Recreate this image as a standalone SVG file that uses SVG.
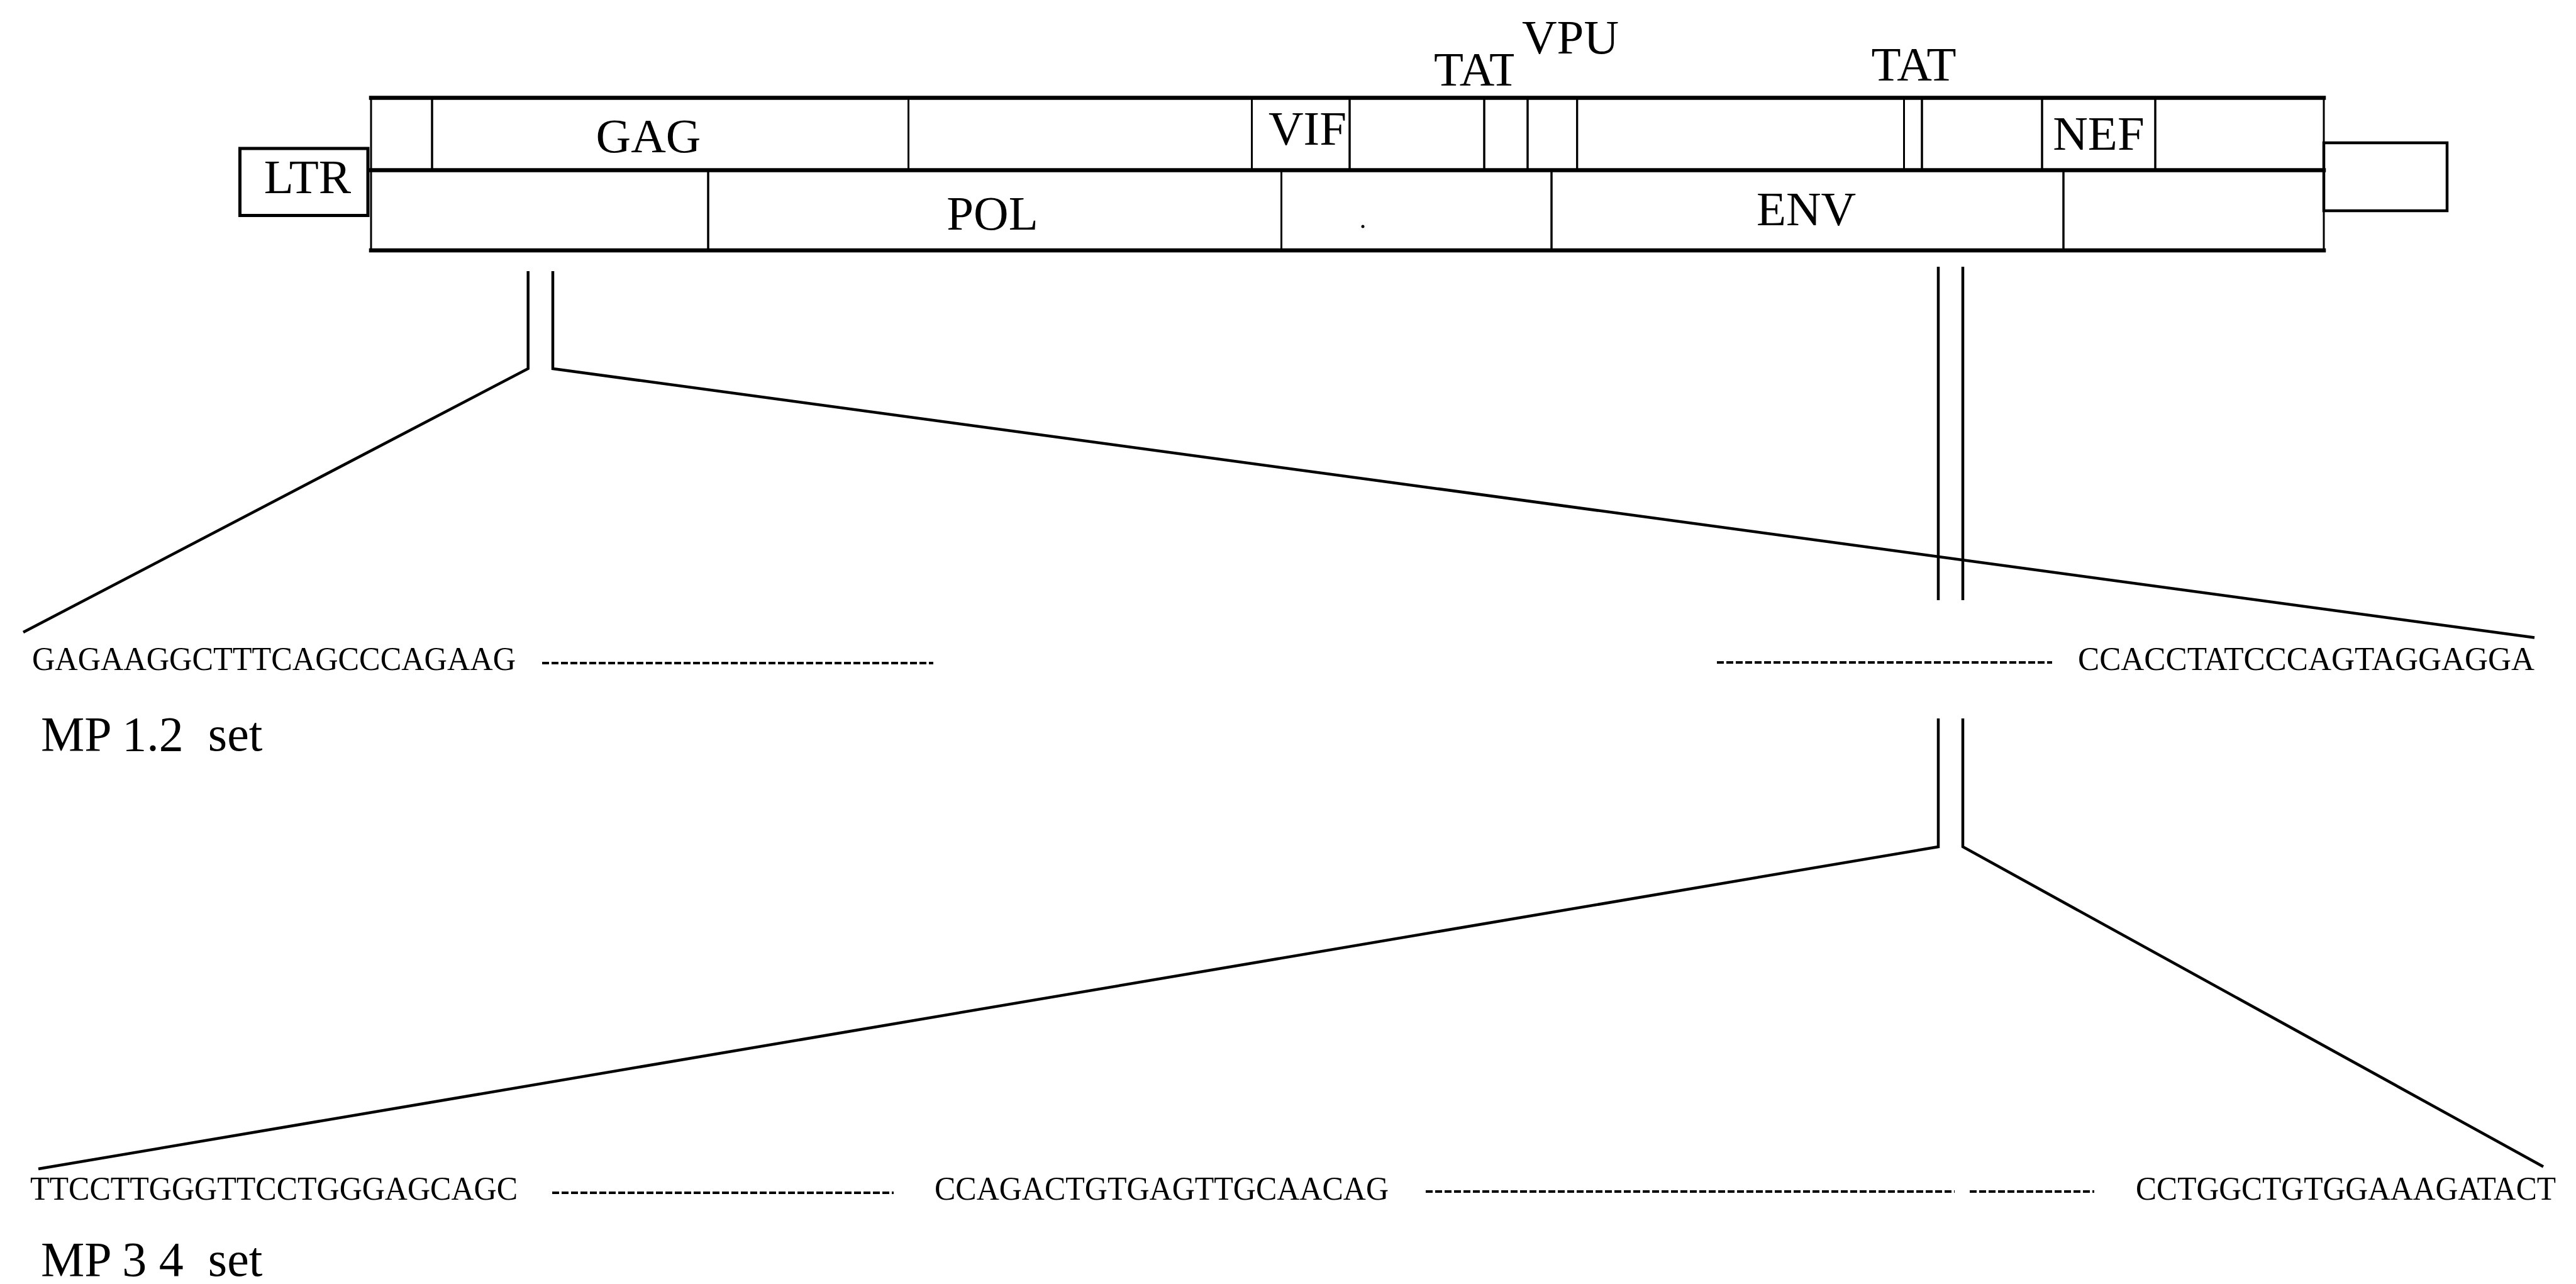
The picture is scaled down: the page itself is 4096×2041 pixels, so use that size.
<svg xmlns="http://www.w3.org/2000/svg" width="4096" height="2041" viewBox="0 0 4096 2041">
  <style>
    .seg { fill: none; stroke: #000; stroke-width: 3; }
    .rail { stroke: #000; stroke-width: 6.5; stroke-linecap: square; }
    .lbl { font-family: "Liberation Serif", "Times New Roman", serif; font-size: 77px; fill: #000; }
    .seq { font-family: "Liberation Serif", "Times New Roman", serif; font-size: 52px; fill: #000; }
    .set { font-family: "Liberation Serif", "Times New Roman", serif; font-size: 78px; fill: #000; }
    .link { fill: none; stroke: #000; stroke-width: 4.5; stroke-linejoin: miter; }
    .dots { stroke: #000; stroke-width: 4; stroke-dasharray: 11 4; }
  </style>
  <defs>
    <clipPath id="tat1-clip">
      <rect x="2270" y="60" width="137" height="90"/>
    </clipPath>
  </defs>
  <rect width="4096" height="2041" fill="#fff"/>

  <!-- genome map: LTR ends and reading-frame rows -->
  <g id="ltr-left">
    <rect class="seg" x="381.5" y="236" width="203.5" height="106.5" style="stroke-width:5"/>
    <text class="lbl" x="489" y="307" text-anchor="middle">LTR</text>
  </g>
  <g id="ltr-right">
    <rect class="seg" x="3695" y="227" width="196" height="108" style="stroke-width:4.5"/>
  </g>

  <g id="frame-top">
    <rect class="seg" x="590" y="155.5" width="97" height="115"/>
    <rect class="seg" x="1444.5" y="155.5" width="546" height="115"/>
    <rect class="seg" x="2146" y="155.5" width="214" height="115"/>
    <rect class="seg" x="2507.7" y="155.5" width="519.8" height="115"/>
    <rect class="seg" x="3056" y="155.5" width="191" height="115"/>
    <rect class="seg" x="3427" y="155.5" width="268" height="115"/>
  </g>
  <g id="frame-bottom">
    <rect class="seg" x="590" y="270.5" width="536" height="127.5"/>
    <rect class="seg" x="2037.5" y="270.5" width="429.5" height="127.5"/>
    <rect class="seg" x="3281" y="270.5" width="414" height="127.5"/>
  </g>

  <g id="gag">
    <rect class="seg" x="687" y="155.5" width="757.5" height="115"/>
    <text class="lbl" x="1031" y="242" text-anchor="middle">GAG</text>
  </g>
  <g id="vif">
    <rect class="seg" x="1990.5" y="155.5" width="155.5" height="115"/>
    <text class="lbl" x="2079" y="230" text-anchor="middle">VIF</text>
  </g>
  <g id="tat-1">
    <rect class="seg" x="2360" y="155.5" width="69" height="115"/>
    <text class="lbl" x="2280" y="136" clip-path="url(#tat1-clip)">TAT</text>
  </g>
  <g id="vpu">
    <rect class="seg" x="2429" y="155.5" width="78.7" height="115"/>
    <text class="lbl" x="2420" y="85">VPU</text>
  </g>
  <g id="tat-2">
    <rect class="seg" x="3027.5" y="155.5" width="28.5" height="115"/>
    <text class="lbl" x="3043" y="128" text-anchor="middle">TAT</text>
  </g>
  <g id="nef">
    <rect class="seg" x="3247" y="155.5" width="180" height="115"/>
    <text class="lbl" x="3337" y="238" text-anchor="middle">NEF</text>
  </g>
  <g id="pol">
    <rect class="seg" x="1126" y="270.5" width="911.5" height="127.5"/>
    <text class="lbl" x="1578" y="365" text-anchor="middle">POL</text>
  </g>
  <g id="env">
    <rect class="seg" x="2467" y="270.5" width="814" height="127.5"/>
    <text class="lbl" x="2872" y="358" text-anchor="middle">ENV</text>
  </g>

  <!-- heavy rails of the map -->
  <g id="rails">
    <line class="rail" x1="590" y1="155.5" x2="3695" y2="155.5"/>
    <line class="rail" x1="590" y1="270.5" x2="3695" y2="270.5"/>
    <line class="rail" x1="590" y1="398" x2="3695" y2="398"/>
  </g>
  <circle cx="2167" cy="360" r="2.5" fill="#000"/>

  <!-- zoom-out connectors to the primer rows -->
  <g id="connectors">
    <polyline class="link" points="839.7,431 839.7,586 37,1005"/>
    <polyline class="link" points="879,431 879,586 4030,1013.5"/>
    <line class="link" x1="3082" y1="424" x2="3082" y2="954"/>
    <line class="link" x1="3121" y1="424" x2="3121" y2="954"/>
    <polyline class="link" points="3082,1142 3082,1346 61,1858"/>
    <polyline class="link" points="3121,1142 3121,1346 4044,1854.5"/>
  </g>

  <!-- MP 1.2 primer set -->
  <g id="mp12">
    <text class="seq" x="51" y="1064.5" textLength="769" lengthAdjust="spacingAndGlyphs">GAGAAGGCTTTCAGCCCAGAAG</text>
    <line class="dots" x1="862" y1="1054" x2="1484" y2="1054"/>
    <line class="dots" x1="2730" y1="1053" x2="3263" y2="1053"/>
    <text class="seq" x="3304" y="1064.5" textLength="726" lengthAdjust="spacingAndGlyphs">CCACCTATCCCAGTAGGAGGA</text>
    <text class="set" x="65" y="1192.5" xml:space="preserve">MP 1.2  set</text>
  </g>

  <!-- MP 3 4 primer set -->
  <g id="mp34">
    <text class="seq" x="48" y="1907" textLength="775" lengthAdjust="spacingAndGlyphs">TTCCTTGGGTTCCTGGGAGCAGC</text>
    <line class="dots" x1="878" y1="1896" x2="1421" y2="1896"/>
    <text class="seq" x="1486" y="1907" textLength="722" lengthAdjust="spacingAndGlyphs">CCAGACTGTGAGTTGCAACAG</text>
    <line class="dots" x1="2267" y1="1894" x2="3108" y2="1894"/>
    <line class="dots" x1="3132" y1="1894" x2="3330" y2="1894"/>
    <text class="seq" x="3396" y="1907" textLength="668" lengthAdjust="spacingAndGlyphs">CCTGGCTGTGGAAAGATACT</text>
    <text class="set" x="65" y="2028" xml:space="preserve">MP 3 4  set</text>
  </g>
</svg>
